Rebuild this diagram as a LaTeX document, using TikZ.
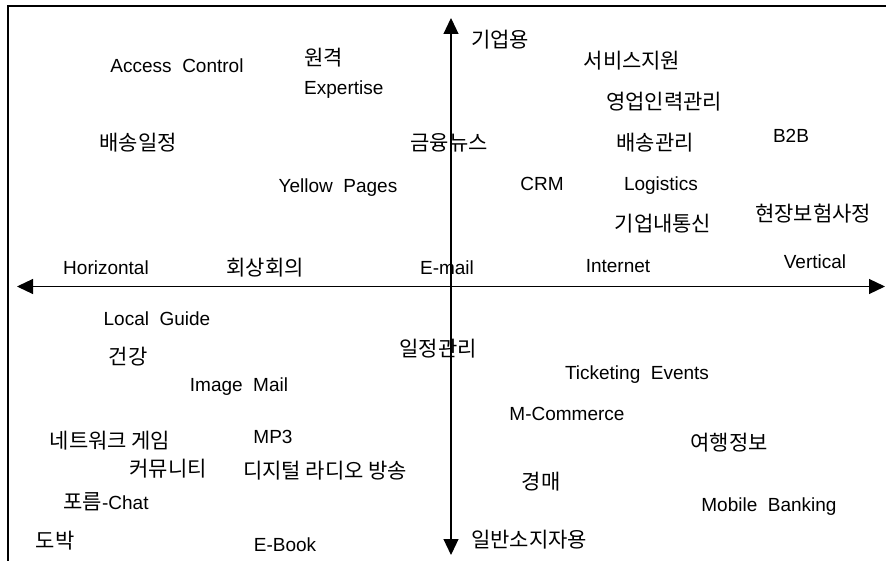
\documentclass[tikz,border=0pt]{standalone}
\usepackage{fontspec}
\setmainfont{Liberation Sans}
\newfontfamily\kr{Noto Sans CJK KR}
\usepackage{tikz}
\usetikzlibrary{arrows.meta}

\begin{document}
\begin{tikzpicture}[
    x=1pt, y=-1pt,
    lbl/.style={inner sep=0pt, font=\fontsize{19}{29}\selectfont},
    kor/.style={inner sep=0pt, font=\fontsize{21}{29}\selectfont\kr},
    axis/.style={line width=1.2pt, {Triangle[length=16pt,width=15pt]}-{Triangle[length=16pt,width=15pt]}}
]
    \useasboundingbox (0,0) rectangle (886,561);
    % frame
    \draw[line width=1.8pt] (8,561) -- (8,6) -- (886,6);

    % axis ends
    \coordinate (west) at (17,286.5);
    \coordinate (east) at (885,286.5);
    \coordinate (north) at (451,18);
    \coordinate (south) at (451,555);
    \draw[axis] (west) -- (east);
    \draw[axis] (north) -- (south);

    % upper left
    \node[lbl] (access) at (177,66) {Access\ \ Control};
    \node[lbl, align=left, anchor=west] (remote) at (304,73) {{\fontsize{21}{29}\selectfont\kr 원격}\\Expertise};
    \node[kor] (delivsched) at (138,143) {배송일정};
    \node[kor] (finnews) at (449,143) {금융뉴스};
    \node[lbl] (yellow) at (338,188) {Yellow\ \ Pages};

    % upper right
    \node[kor] (corp) at (500,40) {기업용};
    \node[kor] (service) at (632,61) {서비스지원};
    \node[kor] (sales) at (664,102) {영업인력관리};
    \node[kor] (delivmgmt) at (655,143) {배송관리};
    \node[lbl] (btob) at (791,136) {B2B};
    \node[lbl] (crm) at (542,184) {CRM};
    \node[lbl] (logis) at (661,186) {Logistics};
    \node[kor] (intracom) at (663,224) {기업내통신};
    \node[kor] (claims) at (813,214) {현장보험사정};

    % along the horizontal axis
    \node[lbl] (horiz) at (106,268) {Horizontal};
    \node[kor] (conf) at (265,268) {회상회의};
    \node[lbl] (email) at (447,268) {E-mail};
    \node[lbl] (inet) at (618,266) {Internet};
    \node[lbl] (vert) at (815,262) {Vertical};

    % lower left
    \node[lbl] (guide) at (157,319) {Local\ \ Guide};
    \node[kor] (health) at (128,357) {건강};
    \node[lbl] (imgmail) at (239,387) {Image\ \ Mail};
    \node[kor] (netgame) at (110,441) {네트워크\ 게임};
    \node[lbl] (mp3) at (273,437) {MP3};
    \node[kor] (commu) at (168,469) {커뮤니티};
    \node[kor] (radio) at (325,471) {디지털\ 라디오\ 방송};
    \node[lbl] (chat) at (106,502) {{\fontsize{21}{29}\selectfont\kr 포름}-Chat};
    \node[kor] (gamble) at (55,541) {도박};
    \node[lbl] (ebook) at (285,545) {E-Book};

    % lower right
    \node[kor] (sched) at (438,349) {일정관리};
    \node[lbl] (ticket) at (637,375) {Ticketing\ \ Events};
    \node[lbl] (mcomm) at (567,414) {M-Commerce};
    \node[kor] (travel) at (729,443) {여행정보};
    \node[kor] (auction) at (541,482) {경매};
    \node[lbl] (bank) at (769,507) {Mobile\ \ Banking};
    \node[kor] (consumer) at (529,540) {일반소지자용};
\end{tikzpicture}
\end{document}
